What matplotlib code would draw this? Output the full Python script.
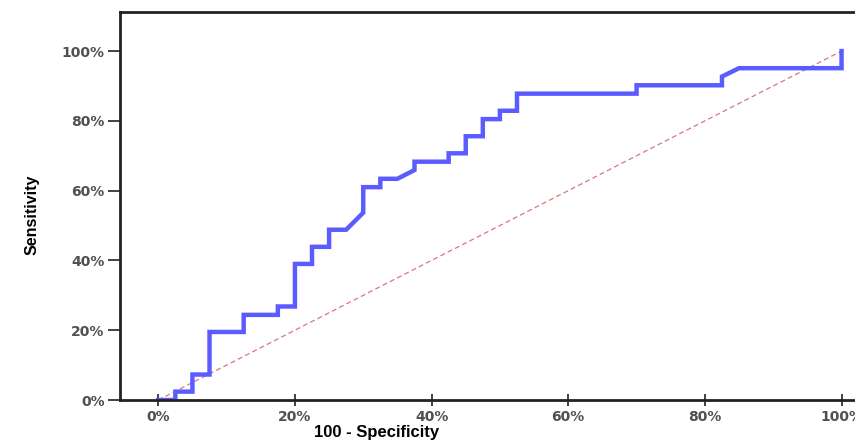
import matplotlib.pyplot as plt
from matplotlib.ticker import FuncFormatter

# ROC curve points (percent)
fpr = [0, 2.5, 2.5, 5, 5, 7.5, 7.5, 12.5, 12.5, 17.5, 17.5, 20, 20, 22.5, 22.5,
       25, 25, 27.5, 30, 30, 32.5, 32.5, 35, 37.5, 37.5, 42.5, 42.5, 45, 45,
       47.5, 47.5, 50, 50, 52.5, 52.5, 70, 70, 82.5, 82.5, 85, 100, 100]
tpr = [0, 0, 2.4, 2.4, 7.3, 7.3, 19.5, 19.5, 24.4, 24.4, 26.8, 26.8, 39.0, 39.0, 43.9,
       43.9, 48.8, 48.8, 53.7, 61.0, 61.0, 63.4, 63.4, 65.9, 68.3, 68.3, 70.7, 70.7, 75.6,
       75.6, 80.5, 80.5, 82.9, 82.9, 87.8, 87.8, 90.2, 90.2, 92.7, 95.1, 95.1, 100]
ref_x = [0, 100]
ref_y = [0, 100]
ticks = [0, 20, 40, 60, 80, 100]

W, H = 855, 441
fig = plt.figure(figsize=(W / 100, H / 100), dpi=100)
ax = fig.add_axes([120 / W, 41 / H, 740 / W, 388 / H])

ax.plot(ref_x, ref_y, color='#d9777b', lw=0.9, ls=(0, (4, 2.5)))
ax.plot(fpr, tpr, color='#5a5cff', lw=3.2, solid_joinstyle='miter')

ax.set_xlim(-5.6, 102.7)
ax.set_ylim(0, 111.2)
ax.set_xticks(ticks)
ax.set_yticks(ticks)
pct = FuncFormatter(lambda v, p: f"{v:.0f}%")
ax.xaxis.set_major_formatter(pct)
ax.yaxis.set_major_formatter(pct)

for s in ['left', 'bottom', 'top']:
    ax.spines[s].set_linewidth(2)
    ax.spines[s].set_color('#222222')
ax.spines['right'].set_visible(False)

ax.tick_params(axis='y', direction='out', length=9, width=1.3, color='#333333',
               labelsize=10, labelcolor='#505050', pad=2)
ax.tick_params(axis='x', direction='inout', length=8, width=1.3, color='#333333',
               labelsize=10, labelcolor='#505050', pad=3)
for lab in ax.get_xticklabels() + ax.get_yticklabels():
    lab.set_fontweight('bold')

fig.text(32 / W, 1 - 215 / H, 'Sensitivity', rotation=90, ha='center', va='center',
         fontsize=11.5, fontweight='bold', family=['Liberation Sans', 'DejaVu Sans'])
fig.text(377 / W, 1 - 433 / H, '100 - Specificity', ha='center', va='center',
         fontsize=12, fontweight='bold', family=['Liberation Sans', 'DejaVu Sans'])

plt.savefig('out.png', dpi=100)
